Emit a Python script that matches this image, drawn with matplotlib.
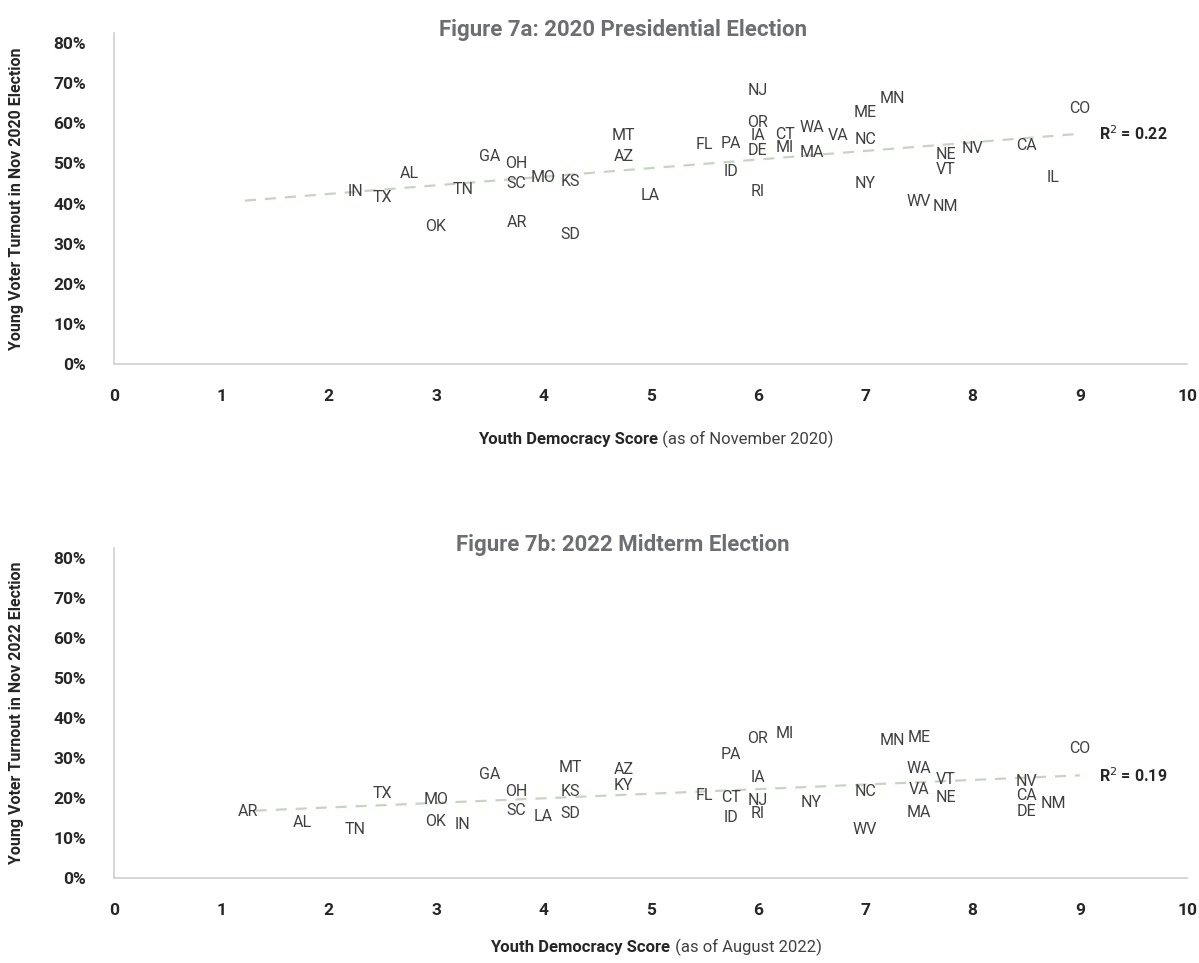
import numpy as np
import matplotlib
matplotlib.use('Agg')
import matplotlib.pyplot as plt
from matplotlib.offsetbox import TextArea, HPacker, AnnotationBbox

# 2020 presidential election
states_2020 = ['IN', 'TX', 'AL', 'OK', 'TN', 'GA', 'OH', 'SC', 'AR', 'MO', 'KS', 'SD',
               'MT', 'AZ', 'LA', 'FL', 'PA', 'ID', 'NJ', 'OR', 'IA', 'DE', 'RI', 'CT',
               'MI', 'WA', 'MA', 'VA', 'ME', 'NC', 'NY', 'MN', 'WV', 'NE', 'VT', 'NM',
               'NV', 'CA', 'IL', 'CO']
score_2020 = [2.25, 2.5, 2.75, 3.0, 3.25, 3.5, 3.75, 3.75, 3.75, 4.0, 4.25, 4.25,
              4.75, 4.75, 5.0, 5.5, 5.75, 5.75, 6.0, 6.0, 6.0, 6.0, 6.0, 6.25,
              6.25, 6.5, 6.5, 6.75, 7.0, 7.0, 7.0, 7.25, 7.5, 7.75, 7.75, 7.75,
              8.0, 8.5, 8.75, 9.0]
turnout_2020 = [42.9, 41.6, 47.4, 34.2, 43.6, 51.6, 49.9, 45.1, 35.2, 46.6, 45.6, 32.2,
                56.9, 51.6, 42.1, 54.6, 54.9, 48.1, 68.3, 60.1, 56.9, 53.1, 43.1, 57.1,
                53.9, 58.9, 52.6, 56.9, 62.6, 55.9, 45.1, 66.1, 40.4, 52.1, 48.4, 39.2,
                53.6, 54.4, 46.6, 63.6]

# 2022 midterm election
states_2022 = ['AR', 'AL', 'TN', 'TX', 'MO', 'OK', 'IN', 'GA', 'OH', 'SC', 'LA', 'MT',
               'KS', 'SD', 'AZ', 'KY', 'FL', 'PA', 'CT', 'ID', 'OR', 'IA', 'NJ', 'RI',
               'MI', 'NY', 'NC', 'WV', 'MN', 'ME', 'WA', 'VA', 'MA', 'VT', 'NE', 'NV',
               'CA', 'DE', 'NM', 'CO']
score_2022 = [1.25, 1.75, 2.25, 2.5, 3.0, 3.0, 3.25, 3.5, 3.75, 3.75, 4.0, 4.25,
              4.25, 4.25, 4.75, 4.75, 5.5, 5.75, 5.75, 5.75, 6.0, 6.0, 6.0, 6.0,
              6.25, 6.5, 7.0, 7.0, 7.25, 7.5, 7.5, 7.5, 7.5, 7.75, 7.75, 8.5,
              8.5, 8.5, 8.75, 9.0]
turnout_2022 = [16.7, 13.9, 12.1, 21.0, 19.7, 14.1, 13.4, 25.8, 21.5, 16.9, 15.4, 27.5,
                21.7, 16.2, 27.0, 23.2, 20.7, 30.8, 20.2, 15.2, 34.9, 25.0, 19.4, 16.2,
                36.1, 18.9, 21.7, 12.1, 34.3, 35.1, 27.3, 22.0, 16.4, 24.7, 20.0, 24.2,
                20.7, 16.7, 18.7, 32.3]

y_ticks = [0, 10, 20, 30, 40, 50, 60, 70, 80]
x_ticks = [0, 1, 2, 3, 4, 5, 6, 7, 8, 9, 10]

panels = [
    dict(title='Figure 7a: 2020 Presidential Election', states=states_2020,
         x=score_2020, y=turnout_2020, r2='0.22', trend_from=1.22,
         ylabel='Young Voter Turnout in Nov 2020 Election',
         xnote=' (as of November 2020)', xlab_off=-54,
         rect=[0.0951, 0.622, 0.895, 0.3437]),
    dict(title='Figure 7b: 2022 Midterm Election', states=states_2022,
         x=score_2022, y=turnout_2022, r2='0.19', trend_from=1.32,
         ylabel='Young Voter Turnout in Nov 2022 Election',
         xnote=' (as of August 2022)', xlab_off=-50,
         rect=[0.0951, 0.0883, 0.895, 0.3427]),
]

FONT = ['Roboto', 'DejaVu Sans']
plt.rcParams['font.family'] = FONT

fig = plt.figure(figsize=(11.99, 9.63), dpi=100)

for p in panels:
    ax = fig.add_axes(p['rect'])
    xs = np.array(p['x'])
    ys = np.array(p['y'])

    # linear trend (dashed)
    k, b = np.polyfit(xs, ys, 1)
    tx = np.array([p['trend_from'], xs.max()])
    ax.plot(tx, k * tx + b, ls=(0, (5, 4)), color='#c6d4c4', lw=1.6, zorder=1)
    ax.annotate('R$^2$ = ' + p['r2'], xy=(tx[-1], k * tx[-1] + b),
                xytext=(14, 0), textcoords='offset points', ha='left', va='center',
                fontsize=11.5, fontweight='bold', color='#262626')

    for s, xv, yv in zip(p['states'], xs, ys):
        ax.text(xv, yv, s, ha='center', va='center', fontsize=11.5,
                color='#404040', zorder=2)

    ax.set_xlim(0, 10)
    ax.set_ylim(0, 82.5)
    ax.set_xticks(x_ticks)
    ax.set_yticks(y_ticks)
    ax.set_yticklabels([f'{v}%' for v in y_ticks])
    ax.tick_params(length=0, labelsize=12.5, colors='#262626')
    ax.tick_params(axis='y', pad=20)
    ax.tick_params(axis='x', pad=18)
    for lab in ax.get_xticklabels() + ax.get_yticklabels():
        lab.set_fontweight('bold')
    for side in ['top', 'right']:
        ax.spines[side].set_visible(False)
    for side in ['left', 'bottom']:
        ax.spines[side].set_color('#d0d0d0')
        ax.spines[side].set_linewidth(1.2)

    ax.set_title(p['title'], fontsize=16, fontweight='bold', color='#6d6e71',
                 x=0.474, y=0.99, pad=0)
    ax.set_ylabel(p['ylabel'], fontsize=11.5, fontweight='bold', color='#262626', labelpad=21)

    # x label with bold and regular parts
    t1 = TextArea('Youth Democracy Score', textprops=dict(fontsize=12, fontweight='bold', color='#262626', family=FONT))
    t2 = TextArea(p['xnote'], textprops=dict(fontsize=12, color='#404040', family=FONT))
    box = HPacker(children=[t1, t2], align='baseline', pad=0, sep=0)
    ab = AnnotationBbox(box, (0.505, 0), xycoords='axes fraction', xybox=(0, p['xlab_off']),
                        boxcoords='offset points', frameon=False, box_alignment=(0.5, 0.5))
    ax.add_artist(ab)

plt.savefig('out.png', dpi=100)
plt.close()
